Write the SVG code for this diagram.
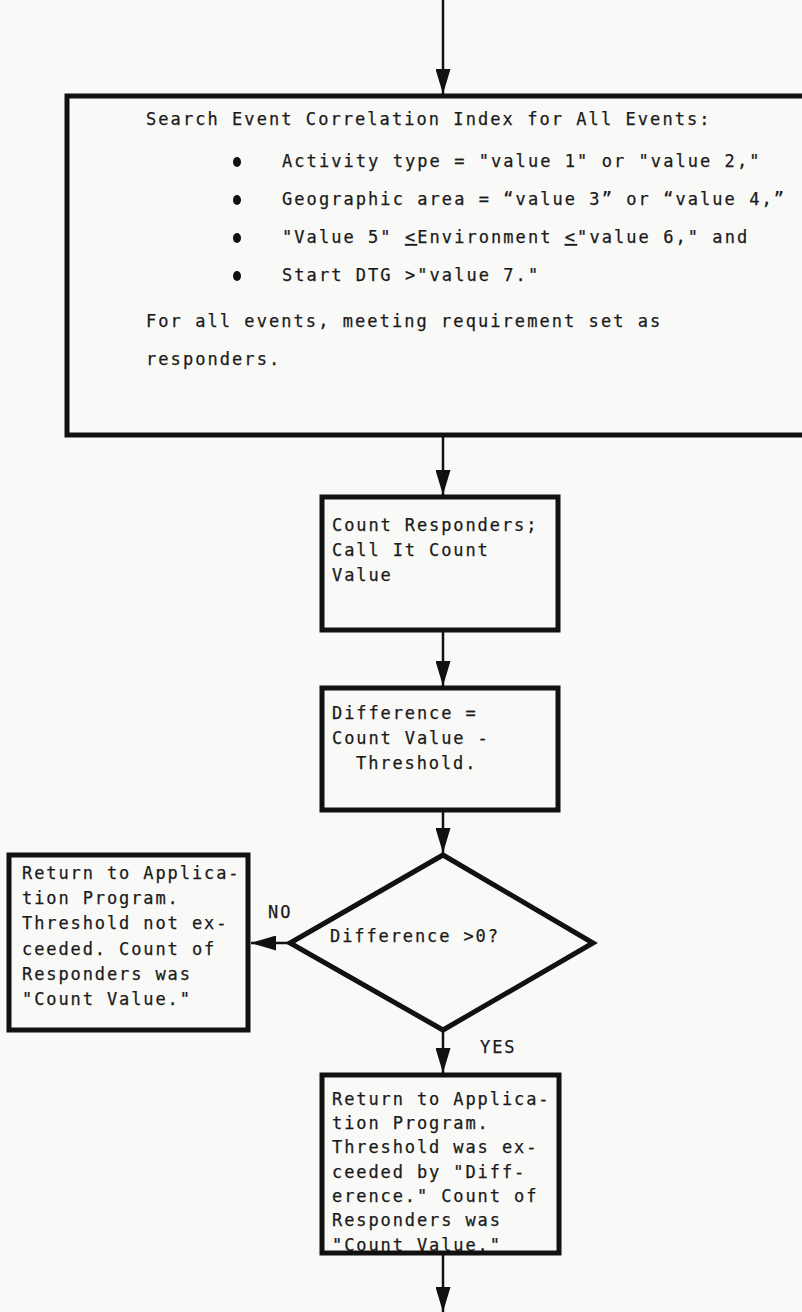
<svg xmlns="http://www.w3.org/2000/svg" width="802" height="1312" viewBox="0 0 802 1312">
<style>
.t{font-family:"DejaVu Sans Mono","Liberation Mono",monospace;font-size:17px;fill:#1a1a1a;stroke:#1a1a1a;stroke-width:0.25px;letter-spacing:1.9px}
.tb{letter-spacing:2.06px}
.box{fill:none;stroke:#111;stroke-width:5}
.con{stroke:#111;stroke-width:2.5;fill:none}
</style>
<defs>
<marker id="ah" markerUnits="userSpaceOnUse" markerWidth="25" markerHeight="15" viewBox="0 0 25 15" refX="25" refY="7.5" orient="auto">
<path d="M0,0 L25,7.5 L0,15 Z" fill="#111"/>
</marker>
</defs>
<rect width="802" height="1312" fill="#f9f9f7"/>
<g id="connectors">
<line class="con" x1="443" y1="0" x2="443" y2="94" marker-end="url(#ah)"/>
<line class="con" x1="443" y1="437" x2="443" y2="495" marker-end="url(#ah)"/>
<line class="con" x1="443" y1="632" x2="443" y2="686" marker-end="url(#ah)"/>
<line class="con" x1="443" y1="812" x2="443" y2="853" marker-end="url(#ah)"/>
<line class="con" x1="290" y1="943" x2="251" y2="943" marker-end="url(#ah)"/>
<line class="con" x1="443" y1="1032" x2="443" y2="1073" marker-end="url(#ah)"/>
<line class="con" x1="443" y1="1255" x2="443" y2="1312" marker-end="url(#ah)"/>
<text class="t" x="268" y="918">NO</text>
<text class="t" x="480" y="1053">YES</text>
</g>
<g id="search">
<rect class="box" x="67" y="96" width="760" height="339"/>
<text class="t tb" x="146" y="125">Search Event Correlation Index for All Events:</text>
<ellipse cx="237" cy="162" rx="4" ry="5" fill="#111"/>
<ellipse cx="237" cy="200" rx="4" ry="5" fill="#111"/>
<ellipse cx="237" cy="238" rx="4" ry="5" fill="#111"/>
<ellipse cx="237" cy="276" rx="4" ry="5" fill="#111"/>
<text class="t tb" x="282" y="167">Activity type = "value 1" or "value 2,"</text>
<text class="t tb" x="282" y="205">Geographic area = “value 3” or “value 4,”</text>
<text class="t tb" x="282" y="243">"Value 5" <tspan text-decoration="underline">&lt;</tspan>Environment <tspan text-decoration="underline">&lt;</tspan>"value 6," and</text>
<text class="t tb" x="282" y="281">Start DTG &gt;"value 7."</text>
<text class="t tb" x="146" y="327">For all events, meeting requirement set as</text>
<text class="t tb" x="146" y="365">responders.</text>
</g>
<g id="count">
<rect class="box" x="322" y="497" width="236" height="133"/>
<text class="t" x="332" y="531">Count Responders;</text>
<text class="t" x="332" y="556">Call It Count</text>
<text class="t" x="332" y="581">Value</text>
</g>
<g id="difference">
<rect class="box" x="322" y="688" width="236" height="122"/>
<text class="t" x="332" y="719">Difference =</text>
<text class="t" x="332" y="744">Count Value -</text>
<text class="t" x="356" y="769">Threshold.</text>
</g>
<g id="decision">
<polygon class="box" points="443,855 593,943 443,1030 290,943"/>
<text class="t" x="330" y="942">Difference &gt;0?</text>
</g>
<g id="not-exceeded">
<rect class="box" x="9" y="855" width="239" height="175"/>
<text class="t" x="22" y="879">Return to Applica-</text>
<text class="t" x="22" y="904">tion Program.</text>
<text class="t" x="22" y="929">Threshold not ex-</text>
<text class="t" x="22" y="955">ceeded. Count of</text>
<text class="t" x="22" y="980">Responders was</text>
<text class="t" x="22" y="1005">"Count Value."</text>
</g>
<g id="exceeded">
<text class="t" x="332" y="1105">Return to Applica-</text>
<text class="t" x="332" y="1129">tion Program.</text>
<text class="t" x="332" y="1153">Threshold was ex-</text>
<text class="t" x="332" y="1178">ceeded by "Diff-</text>
<text class="t" x="332" y="1202">erence." Count of</text>
<text class="t" x="332" y="1226">Responders was</text>
<text class="t" x="332" y="1251">"Count Value."</text>
<rect class="box" x="322" y="1075" width="237" height="178"/>
</g>
</svg>
